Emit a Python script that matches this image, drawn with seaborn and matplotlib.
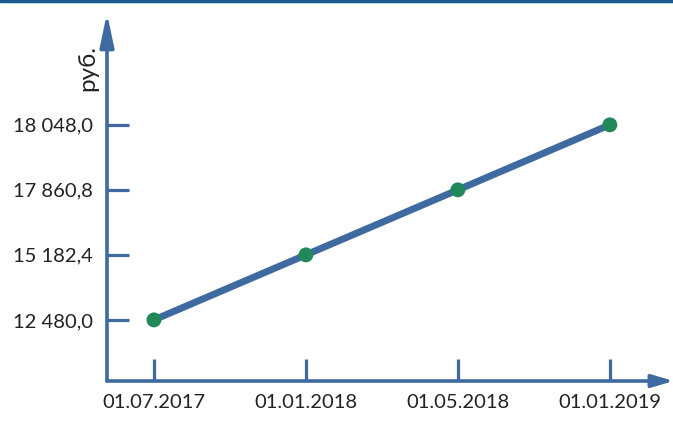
import pandas as pd
import matplotlib.pyplot as plt
import seaborn as sns
from matplotlib.lines import Line2D

sns.set_style('white')
plt.rcParams['font.family'] = ['Lato', 'DejaVu Sans']

# data
dates = ['01.07.2017', '01.01.2018', '01.05.2018', '01.01.2019']
values = [12480.0, 15182.4, 17860.8, 18048.0]
value_labels = ['12 480,0', '15 182,4', '17 860,8', '18 048,0']
unit = 'руб.'

axis_color = '#3f6a9f'
line_color = '#3f6a9f'
dot_color = '#21885a'

# the source chart spaces the values evenly, so plot by rank
order = sorted(values)
df = pd.DataFrame({'x': range(len(dates)), 'y': [order.index(v) for v in values]})

fig = plt.figure(figsize=(6.73, 4.24), dpi=100)
ax = fig.add_axes([107 / 673, 43 / 424, (660 - 107) / 673, (411 - 43) / 424])

sns.lineplot(data=df, x='x', y='y', ax=ax, color=line_color, linewidth=5,
             solid_capstyle='butt', zorder=2)
sns.scatterplot(data=df, x='x', y='y', ax=ax, color=dot_color, s=115,
                edgecolor='none', zorder=3)

ax.set_xlim(-0.309, 3.33)
ax.set_ylim(-0.94, 4.72)
ax.set_xticks(range(len(dates)))
ax.set_xticklabels(dates)
ax.set_yticks(range(len(values)))
ax.set_yticklabels(value_labels)
ax.set_xlabel('')
ax.set_ylabel('')
for s in ax.spines.values():
    s.set_visible(False)

ax.tick_params(axis='both', direction='in', length=16, width=2.3,
               color=axis_color, labelsize=14.5, labelcolor='#222222')
ax.tick_params(axis='y', pad=10, left=True)
ax.tick_params(axis='x', pad=9, bottom=True)

# axis arrows
ax.annotate('', xy=(0, 1.0), xytext=(0, 0), xycoords='axes fraction',
            arrowprops=dict(arrowstyle='-|>,head_length=2.0,head_width=0.42',
                            color=axis_color, lw=2.6, shrinkA=0, shrinkB=0))
ax.annotate('', xy=(1.025, 0), xytext=(0, 0), xycoords='axes fraction',
            arrowprops=dict(arrowstyle='-|>,head_length=1.3,head_width=0.38',
                            color=axis_color, lw=2.6, shrinkA=0, shrinkB=0))

fig.text(88 / 673, 1 - 68 / 424, unit, rotation=90, ha='center', va='center',
         fontsize=17.5, color='#222222')

# top border strip
fig.add_artist(Line2D([0, 1], [0.997, 0.997], transform=fig.transFigure,
                      color='#1a5a8e', linewidth=2.5))

plt.savefig('out.png', dpi=100)
